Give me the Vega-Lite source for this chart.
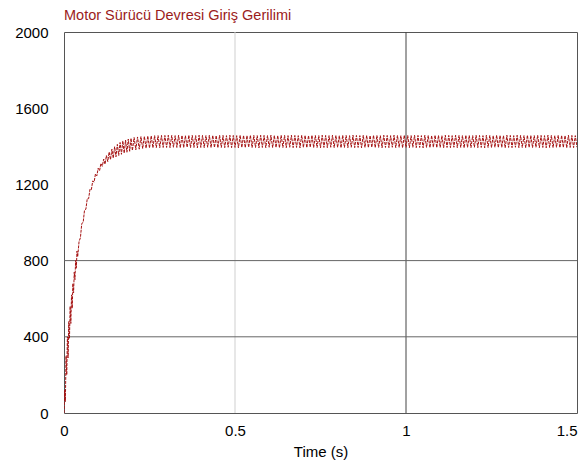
{
  "$schema": "https://vega.github.io/schema/vega-lite/v6.json",
  "width": 513,
  "height": 381,
  "autosize": {"type": "none"},
  "padding": {"left": 64, "top": 32, "right": 2, "bottom": 51},
  "background": "white",
  "config": {
    "view": {"stroke": "#555", "strokeWidth": 1},
    "font": "Liberation Sans",
    "axis": {"grid": false, "ticks": false, "domain": false, "labelFont": "Liberation Sans", "labelFontSize": 15, "labelColor": "#000", "titleFont": "Liberation Sans", "titleFontSize": 15, "titleFontWeight": "normal", "titleColor": "#000"}
  },
  "title": {"text": "Motor Sürücü Devresi Giriş Gerilimi", "anchor": "start", "frame": "group", "color": "#9b1c1c", "fontSize": 14.5, "fontWeight": "normal", "font": "Liberation Sans", "offset": 2},
  "layer": [
    {
      "data": {"values": [{"x": 0.5, "c": "#cfcfcf"}, {"x": 1, "c": "#444444"}]},
      "mark": {"type": "rule", "strokeWidth": 1},
      "encoding": {"x": {"field": "x", "type": "quantitative", "scale": {"domain": [0, 1.5]}}, "color": {"field": "c", "type": "nominal", "scale": null}}
    },
    {
      "data": {"values": [{"y": 400}, {"y": 800}]},
      "mark": {"type": "rule", "strokeWidth": 1, "color": "#666"},
      "encoding": {"y": {"field": "y", "type": "quantitative", "scale": {"domain": [0, 2000]}}}
    },
    {
      "data": {"values": [
        {"t":0.000,"v":0},{"t":0.002,"v":120},{"t":0.004,"v":60},{"t":0.006,"v":300},{"t":0.008,"v":200},{"t":0.010,"v":400},{"t":0.012,"v":290},{"t":0.014,"v":480},{"t":0.016,"v":390},{"t":0.018,"v":560},{"t":0.020,"v":470},{"t":0.022,"v":620},{"t":0.024,"v":550},{"t":0.026,"v":680},{"t":0.028,"v":630},{"t":0.030,"v":740},{"t":0.032,"v":700},{"t":0.034,"v":800},{"t":0.036,"v":760},{"t":0.038,"v":850},{"t":0.040,"v":820},
        {"t":0.044,"v":900},{"t":0.048,"v":920},{"t":0.052,"v":995},{"t":0.056,"v":1000},{"t":0.060,"v":1065},{"t":0.064,"v":1070},{"t":0.068,"v":1125},{"t":0.072,"v":1125},{"t":0.076,"v":1175},{"t":0.080,"v":1172},{"t":0.084,"v":1218},{"t":0.088,"v":1212},{"t":0.092,"v":1255},{"t":0.096,"v":1245},{"t":0.100,"v":1285},{"t":0.104,"v":1272},{"t":0.108,"v":1310},{"t":0.112,"v":1295},{"t":0.116,"v":1333},{"t":0.120,"v":1306},{"t":0.124,"v":1352},{"t":0.128,"v":1320},{"t":0.132,"v":1370},{"t":0.136,"v":1330},{"t":0.140,"v":1385},{"t":0.144,"v":1338},{"t":0.148,"v":1398},{"t":0.152,"v":1345},{"t":0.156,"v":1410},{"t":0.160,"v":1352},{"t":0.164,"v":1420},{"t":0.168,"v":1358},{"t":0.172,"v":1428},{"t":0.176,"v":1364},{"t":0.180,"v":1433},{"t":0.184,"v":1369},{"t":0.188,"v":1438},{"t":0.192,"v":1374},{"t":0.196,"v":1442},{"t":0.200,"v":1378},
        {"t":0.205,"v":1446},{"t":0.210,"v":1382},{"t":0.215,"v":1449},{"t":0.220,"v":1385},{"t":0.225,"v":1451},{"t":0.230,"v":1388},{"t":0.235,"v":1452},{"t":0.240,"v":1390},{"t":0.245,"v":1454},{"t":0.250,"v":1391},{"t":0.255,"v":1455},{"t":0.260,"v":1392},{"t":0.265,"v":1456},{"t":0.270,"v":1393},{"t":0.275,"v":1456},{"t":0.280,"v":1393},{"t":0.285,"v":1457},{"t":0.290,"v":1394},{"t":0.295,"v":1457},{"t":0.300,"v":1394},
        {"t":0.305,"v":1458},{"t":0.310,"v":1393},{"t":0.315,"v":1457},{"t":0.320,"v":1395},{"t":0.325,"v":1456},{"t":0.330,"v":1394},{"t":0.335,"v":1458},{"t":0.340,"v":1392},{"t":0.345,"v":1457},{"t":0.350,"v":1393},
        {"t":0.355,"v":1456},{"t":0.360,"v":1395},{"t":0.365,"v":1458},{"t":0.370,"v":1393},{"t":0.375,"v":1457},{"t":0.380,"v":1394},{"t":0.385,"v":1456},{"t":0.390,"v":1392},{"t":0.395,"v":1458},{"t":0.400,"v":1394},
        {"t":0.405,"v":1457},{"t":0.410,"v":1393},{"t":0.415,"v":1456},{"t":0.420,"v":1395},{"t":0.425,"v":1458},{"t":0.430,"v":1393},{"t":0.435,"v":1457},{"t":0.440,"v":1394},{"t":0.445,"v":1456},{"t":0.450,"v":1392},
        {"t":0.455,"v":1458},{"t":0.460,"v":1394},{"t":0.465,"v":1457},{"t":0.470,"v":1393},{"t":0.475,"v":1456},{"t":0.480,"v":1395},{"t":0.485,"v":1458},{"t":0.490,"v":1393},{"t":0.495,"v":1457},{"t":0.500,"v":1394},
        {"t":0.505,"v":1456},{"t":0.510,"v":1392},{"t":0.515,"v":1458},{"t":0.520,"v":1394},{"t":0.525,"v":1457},{"t":0.530,"v":1393},{"t":0.535,"v":1456},{"t":0.540,"v":1395},{"t":0.545,"v":1458},{"t":0.550,"v":1393},
        {"t":0.555,"v":1457},{"t":0.560,"v":1394},{"t":0.565,"v":1456},{"t":0.570,"v":1392},{"t":0.575,"v":1458},{"t":0.580,"v":1394},{"t":0.585,"v":1457},{"t":0.590,"v":1393},{"t":0.595,"v":1456},{"t":0.600,"v":1395},
        {"t":0.605,"v":1458},{"t":0.610,"v":1393},{"t":0.615,"v":1457},{"t":0.620,"v":1394},{"t":0.625,"v":1456},{"t":0.630,"v":1392},{"t":0.635,"v":1458},{"t":0.640,"v":1394},{"t":0.645,"v":1457},{"t":0.650,"v":1393},
        {"t":0.655,"v":1456},{"t":0.660,"v":1395},{"t":0.665,"v":1458},{"t":0.670,"v":1393},{"t":0.675,"v":1457},{"t":0.680,"v":1394},{"t":0.685,"v":1456},{"t":0.690,"v":1392},{"t":0.695,"v":1458},{"t":0.700,"v":1394},
        {"t":0.705,"v":1457},{"t":0.710,"v":1393},{"t":0.715,"v":1456},{"t":0.720,"v":1395},{"t":0.725,"v":1458},{"t":0.730,"v":1393},{"t":0.735,"v":1457},{"t":0.740,"v":1394},{"t":0.745,"v":1456},{"t":0.750,"v":1392},
        {"t":0.755,"v":1458},{"t":0.760,"v":1394},{"t":0.765,"v":1457},{"t":0.770,"v":1393},{"t":0.775,"v":1456},{"t":0.780,"v":1395},{"t":0.785,"v":1458},{"t":0.790,"v":1393},{"t":0.795,"v":1457},{"t":0.800,"v":1394},
        {"t":0.805,"v":1456},{"t":0.810,"v":1392},{"t":0.815,"v":1458},{"t":0.820,"v":1394},{"t":0.825,"v":1457},{"t":0.830,"v":1393},{"t":0.835,"v":1456},{"t":0.840,"v":1395},{"t":0.845,"v":1458},{"t":0.850,"v":1393},
        {"t":0.855,"v":1457},{"t":0.860,"v":1394},{"t":0.865,"v":1456},{"t":0.870,"v":1392},{"t":0.875,"v":1458},{"t":0.880,"v":1394},{"t":0.885,"v":1457},{"t":0.890,"v":1393},{"t":0.895,"v":1456},{"t":0.900,"v":1395},
        {"t":0.905,"v":1458},{"t":0.910,"v":1393},{"t":0.915,"v":1457},{"t":0.920,"v":1394},{"t":0.925,"v":1456},{"t":0.930,"v":1392},{"t":0.935,"v":1458},{"t":0.940,"v":1394},{"t":0.945,"v":1457},{"t":0.950,"v":1393},
        {"t":0.955,"v":1456},{"t":0.960,"v":1395},{"t":0.965,"v":1458},{"t":0.970,"v":1393},{"t":0.975,"v":1457},{"t":0.980,"v":1394},{"t":0.985,"v":1456},{"t":0.990,"v":1392},{"t":0.995,"v":1458},{"t":1.000,"v":1394},
        {"t":1.005,"v":1457},{"t":1.010,"v":1393},{"t":1.015,"v":1456},{"t":1.020,"v":1395},{"t":1.025,"v":1458},{"t":1.030,"v":1393},{"t":1.035,"v":1457},{"t":1.040,"v":1394},{"t":1.045,"v":1456},{"t":1.050,"v":1392},
        {"t":1.055,"v":1458},{"t":1.060,"v":1394},{"t":1.065,"v":1457},{"t":1.070,"v":1393},{"t":1.075,"v":1456},{"t":1.080,"v":1395},{"t":1.085,"v":1458},{"t":1.090,"v":1393},{"t":1.095,"v":1457},{"t":1.100,"v":1394},
        {"t":1.105,"v":1456},{"t":1.110,"v":1392},{"t":1.115,"v":1458},{"t":1.120,"v":1394},{"t":1.125,"v":1457},{"t":1.130,"v":1393},{"t":1.135,"v":1456},{"t":1.140,"v":1395},{"t":1.145,"v":1458},{"t":1.150,"v":1393},
        {"t":1.155,"v":1457},{"t":1.160,"v":1394},{"t":1.165,"v":1456},{"t":1.170,"v":1392},{"t":1.175,"v":1458},{"t":1.180,"v":1394},{"t":1.185,"v":1457},{"t":1.190,"v":1393},{"t":1.195,"v":1456},{"t":1.200,"v":1395},
        {"t":1.205,"v":1458},{"t":1.210,"v":1393},{"t":1.215,"v":1457},{"t":1.220,"v":1394},{"t":1.225,"v":1456},{"t":1.230,"v":1392},{"t":1.235,"v":1458},{"t":1.240,"v":1394},{"t":1.245,"v":1457},{"t":1.250,"v":1393},
        {"t":1.255,"v":1456},{"t":1.260,"v":1395},{"t":1.265,"v":1458},{"t":1.270,"v":1393},{"t":1.275,"v":1457},{"t":1.280,"v":1394},{"t":1.285,"v":1456},{"t":1.290,"v":1392},{"t":1.295,"v":1458},{"t":1.300,"v":1394},
        {"t":1.305,"v":1457},{"t":1.310,"v":1393},{"t":1.315,"v":1456},{"t":1.320,"v":1395},{"t":1.325,"v":1458},{"t":1.330,"v":1393},{"t":1.335,"v":1457},{"t":1.340,"v":1394},{"t":1.345,"v":1456},{"t":1.350,"v":1392},
        {"t":1.355,"v":1458},{"t":1.360,"v":1394},{"t":1.365,"v":1457},{"t":1.370,"v":1393},{"t":1.375,"v":1456},{"t":1.380,"v":1395},{"t":1.385,"v":1458},{"t":1.390,"v":1393},{"t":1.395,"v":1457},{"t":1.400,"v":1394},
        {"t":1.405,"v":1456},{"t":1.410,"v":1392},{"t":1.415,"v":1458},{"t":1.420,"v":1394},{"t":1.425,"v":1457},{"t":1.430,"v":1393},{"t":1.435,"v":1456},{"t":1.440,"v":1395},{"t":1.445,"v":1458},{"t":1.450,"v":1393},
        {"t":1.455,"v":1457},{"t":1.460,"v":1394},{"t":1.465,"v":1456},{"t":1.470,"v":1392},{"t":1.475,"v":1458},{"t":1.480,"v":1394},{"t":1.485,"v":1457},{"t":1.490,"v":1393},{"t":1.495,"v":1456},{"t":1.500,"v":1395}
      ]},
      "mark": {"type": "line", "color": "#a51212", "strokeWidth": 1, "strokeDash": [3, 1], "clip": true},
      "encoding": {
        "x": {"field": "t", "type": "quantitative", "title": "Time (s)", "scale": {"domain": [0, 1.5], "nice": false}, "axis": {"values": [0, 0.5, 1, 1.5], "format": "~g", "labelPadding": 10, "titlePadding": 6, "labelAlign": {"condition": {"test": "datum.value == 1.5", "value": "right"}, "value": "center"}}},
        "y": {"field": "v", "type": "quantitative", "title": null, "scale": {"domain": [0, 2000], "nice": false}, "axis": {"values": [0, 400, 800, 1200, 1600, 2000], "format": "d", "labelPadding": 16}}
      }
    }
  ]
}
